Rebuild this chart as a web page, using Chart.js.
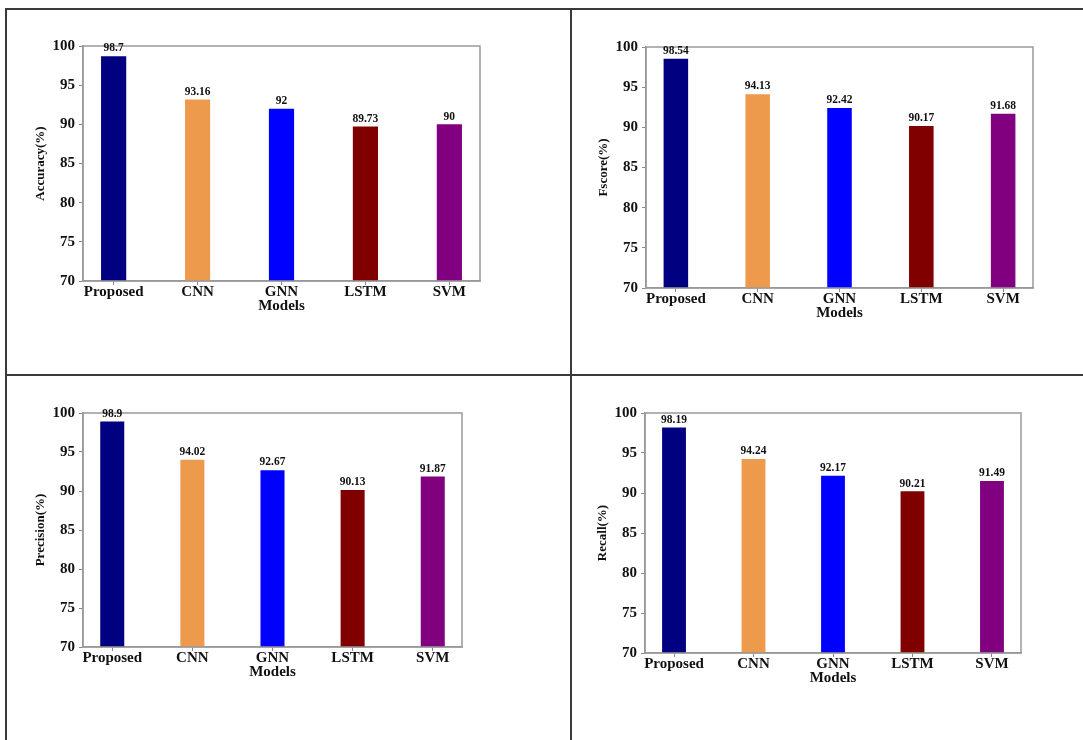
<!DOCTYPE html>
<html>
<head>
<meta charset="utf-8">
<script src="https://cdn.jsdelivr.net/npm/chart.js@4.4.1/dist/chart.umd.min.js"></script>
<style>
  html, body { margin: 0; padding: 0; background: #fff; }
  body { width: 1083px; height: 740px; position: relative; overflow: hidden; }
  .line { position: absolute; background: #3a3a3a; }
  .box { position: absolute; }
</style>
</head>
<body>
<div class="line" style="left:6px; top:8px; width:1077px; height:2px;"></div>
<div class="line" style="left:5px; top:8px; width:2px; height:732px;"></div>
<div class="line" style="left:6px; top:374px; width:1077px; height:2px;"></div>
<div class="line" style="left:570px; top:8px; width:2px; height:732px;"></div>

<div class="box" id="b1"><canvas id="c1"></canvas></div>
<div class="box" id="b2"><canvas id="c2"></canvas></div>
<div class="box" id="b3"><canvas id="c3"></canvas></div>
<div class="box" id="b4"><canvas id="c4"></canvas></div>

<script>
// ---- data ----
const models = ['Proposed', 'CNN', 'GNN', 'LSTM', 'SVM'];
const accuracy = [98.7, 93.16, 92, 89.73, 90];
const fscore = [98.54, 94.13, 92.42, 90.17, 91.68];
const precision = [98.9, 94.02, 92.67, 90.13, 91.87];
const recall = [98.19, 94.24, 92.17, 90.21, 91.49];
const yTickMin = 70, yTickMax = 100, yTickStep = 5;
const xAxisTitle = 'Models';

// ---- styles ----
const barColors = ['#000080', '#EE9A4D', '#0000FF', '#800000', '#800080'];
const FONT = '"Liberation Serif", "Times New Roman", serif';

const frameAndLabels = {
  id: 'frameAndLabels',
  afterDatasetsDraw(chart) {
    const ctx = chart.ctx;
    const a = chart.chartArea;
    ctx.save();
    ctx.strokeStyle = '#999999';
    ctx.lineWidth = 1.5;
    ctx.strokeRect(a.left, a.top, a.right - a.left, a.bottom - a.top);
    const meta = chart.getDatasetMeta(0);
    const vals = chart.data.datasets[0].data;
    ctx.fillStyle = '#111';
    ctx.font = 'bold 11.5px ' + FONT;
    ctx.textAlign = 'center';
    ctx.textBaseline = 'bottom';
    meta.data.forEach((bar, i) => {
      ctx.fillText(String(vals[i].y), bar.x, bar.y - 2);
    });
    ctx.restore();
  }
};

function makeChart(id, boxId, values, yTitle, plot) {
  const padL = 60, padT = 20, padR = 10, padB = 45;
  const w = plot.R - plot.L + padL + padR;
  const h = plot.B - plot.T + padT + padB;
  const box = document.getElementById(boxId);
  box.style.left = (plot.L - padL) + 'px';
  box.style.top = (plot.T - padT) + 'px';
  box.style.width = w + 'px';
  box.style.height = h + 'px';
  const cv = document.getElementById(id);
  cv.width = w; cv.height = h;
  cv.style.width = w + 'px'; cv.style.height = h + 'px';

  new Chart(cv, {
    type: 'bar',
    data: {
      datasets: [{
        data: values.map((v, i) => ({ x: i, y: v })),
        backgroundColor: barColors,
        borderWidth: 0,
        barPercentage: 0.3,
        categoryPercentage: 1.0
      }]
    },
    options: {
      responsive: false,
      animation: false,
      devicePixelRatio: 1,
      layout: { padding: { top: padT, right: padR, left: 0, bottom: 0 } },
      plugins: { legend: { display: false }, tooltip: { enabled: false } },
      scales: {
        x: {
          type: 'linear',
          offset: false,
          min: -0.365,
          max: models.length - 1 + 0.365,
          afterBuildTicks: (s) => { s.ticks = models.map((_, i) => ({ value: i })); },
          afterFit: (s) => { s.height = padB; },
          ticks: {
            color: '#111',
            padding: 0,
            maxRotation: 0,
            autoSkip: false,
            font: { family: FONT, weight: 'bold', size: 15, lineHeight: 1 },
            callback: (v) => models[Math.round(v)]
          },
          grid: { display: true, offset: false, drawOnChartArea: false, drawTicks: true, tickLength: 4, color: '#888' },
          border: { display: true, color: '#999', width: 1.5 },
          title: {
            display: true, text: xAxisTitle, color: '#111',
            font: { family: FONT, weight: 'bold', size: 15 },
            padding: { top: 0, bottom: 11 }
          }
        },
        y: {
          min: yTickMin, max: yTickMax,
          afterFit: (s) => { s.width = padL; },
          ticks: {
            stepSize: yTickStep,
            color: '#111',
            padding: 4,
            font: { family: FONT, weight: 'bold', size: 15 }
          },
          grid: { display: true, drawOnChartArea: false, drawTicks: true, tickLength: 4, color: '#888' },
          border: { display: true, color: '#999', width: 1.5 },
          title: {
            display: true, text: yTitle, color: '#111',
            font: { family: FONT, weight: 'bold', size: 13 },
            padding: { top: 10, bottom: 0 }
          }
        }
      }
    },
    plugins: [frameAndLabels]
  });
}

makeChart('c1', 'b1', accuracy, 'Accuracy(%)', { L: 83, T: 46, R: 480, B: 281 });
makeChart('c2', 'b2', fscore, 'Fscore(%)', { L: 646, T: 47, R: 1033, B: 288 });
makeChart('c3', 'b3', precision, 'Precision(%)', { L: 83, T: 413, R: 462, B: 647 });
makeChart('c4', 'b4', recall, 'Recall(%)', { L: 645, T: 413, R: 1021, B: 653 });
</script>
</body>
</html>
